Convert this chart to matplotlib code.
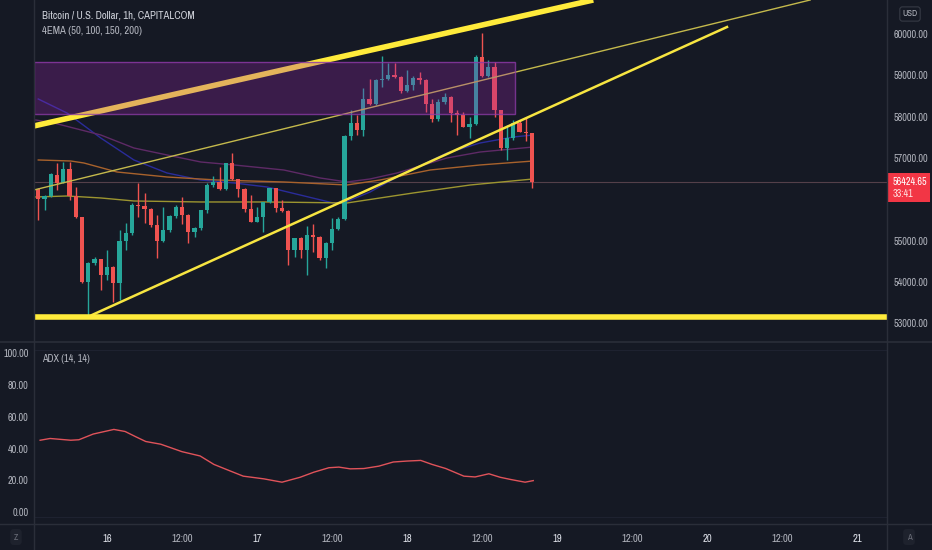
import numpy as np
import matplotlib
matplotlib.use("Agg")
import matplotlib.pyplot as plt
from matplotlib import font_manager
from matplotlib.patches import Rectangle
from matplotlib.transforms import blended_transform_factory

#================= Data =================

# hours counted from 16th 00:00, one candle per hour
hours = list(range(-11, 69))

opens = [56239, 55997, 56085, 56586, 56384, 56731, 56085, 55561, 54003, 54463,
         54544, 54165, 54366, 53979, 54988, 55174, 55859, 55835, 55763, 55375,
         54996, 55254, 55601, 55819, 55617, 55198, 55295, 55738, 56344, 56424,
         56239, 56884, 56481, 56239, 55754, 55456, 55561, 55924, 56263, 55779,
         55722, 54770, 55052, 54770, 55133, 55093, 54568, 54948, 55270, 55512,
         57531, 57837, 57676, 58418, 58305, 58887, 58903, 59008, 58967, 58628,
         58765, 58943, 58887, 58305, 57934, 58362, 58483, 58096, 58031, 57757,
         57813, 59443, 58983, 59201, 58160, 57240, 57482, 57845, 57627, 57603]
highs = [56260, 56100, 56626, 56868, 56909, 56909, 56300, 55577, 54490, 54609,
         54560, 54770, 54380, 55254, 55416, 55900, 56384, 56142, 55790, 55617,
         55819, 55610, 55859, 56061, 55640, 55330, 55750, 56384, 56561, 56787,
         56884, 57126, 56500, 56260, 56101, 55819, 55940, 56280, 56280, 55980,
         55740, 55070, 55090, 55351, 55400, 55110, 54970, 55537, 55560, 57550,
         58160, 58039, 58685, 58903, 58900, 59468, 59290, 59290, 58990, 59129,
         58990, 59088, 58900, 58420, 58420, 58560, 58500, 58160, 58120, 57983,
         59500, 60020, 59371, 59330, 58170, 57797, 57918, 57918, 57990, 57610]
lows = [55496, 55738, 56061, 56223, 56384, 55980, 55537, 53963, 53196, 54407,
        53802, 54044, 53519, 53560, 54770, 55133, 55577, 55416, 55335, 54568,
        54972, 55214, 55537, 55400, 54931, 55093, 55254, 55674, 56300, 56220,
        56220, 56460, 56061, 55698, 55440, 55440, 55214, 55900, 55698, 55700,
        54407, 54609, 54568, 54165, 54730, 54540, 54326, 54770, 55250, 55490,
        57434, 57555, 57531, 58280, 58280, 58725, 58880, 58940, 58564, 58600,
        58640, 58790, 58120, 57878, 57900, 58300, 57878, 57555, 57740, 57474,
        57797, 58960, 58960, 57999, 57192, 56950, 57430, 57620, 57400, 56272]
closes = [55997, 56085, 56602, 56384, 56731, 56085, 55561, 54003, 54463, 54544,
          54165, 54366, 53979, 54988, 55174, 55859, 55835, 55763, 55375, 54996,
          55254, 55601, 55819, 55617, 55198, 55295, 55738, 56344, 56424, 56239,
          56884, 56481, 56239, 55754, 55456, 55561, 55924, 56263, 55779, 55722,
          54770, 55052, 54770, 55133, 55093, 54568, 54948, 55270, 55512, 57531,
          57837, 57676, 58418, 58305, 58887, 58903, 59008, 58967, 58628, 58765,
          58943, 58887, 58305, 57934, 58362, 58483, 58096, 58031, 57757, 57813,
          59443, 58983, 59201, 58160, 57240, 57482, 57845, 57627, 57603, 56424.65]

# EMA lines (hour, price)
ema50_t = [-11.0, -6.4, -1.0, 4.3, 9.6, 15.0, 20.3, 25.6, 30.9, 36.2, 38.2, 42.1, 46.4, 54.4, 59.7, 65.0, 68.2]
ema50_p = [58426, 58087, 57482, 56950, 56635, 56465, 56393, 56296, 56102, 55909, 55933, 56175, 56538, 57119, 57361, 57506, 57555]
ema100_t = [-11.4, -8.5, -1.0, 4.3, 9.6, 15.0, 20.3, 28.3, 34.1, 38.4, 42.1, 46.4, 54.4, 59.7, 68.2]
ema100_p = [57918, 57845, 57555, 57240, 57071, 56901, 56829, 56707, 56514, 56417, 56490, 56635, 56998, 57143, 57264]
ema150_t = [-11.0, -5.8, -3.7, 1.6, 9.6, 17.6, 28.3, 38.4, 43.7, 51.7, 59.7, 68.2]
ema150_p = [56950, 56925, 56877, 56659, 56538, 56465, 56417, 56344, 56465, 56707, 56829, 56925]
ema200_t = [-11.4, -6.4, -1.0, 4.3, 15.0, 25.6, 38.4, 49.0, 58.1, 68.2]
ema200_p = [56054, 56078, 56030, 55957, 55933, 55933, 55909, 56151, 56344, 56490]

# ADX (14, 14)
adx_t = [-10.7, -9.1, -5.8, -4.5, -2.2, 1.1, 2.9, 4.6, 6.2, 8.6, 12.0, 14.9, 17.1, 19.5,
         21.8, 25.1, 28.0, 30.9, 33.1, 35.5, 37.1, 38.9, 41.1, 43.5, 45.8, 48.0, 50.2,
         52.0, 54.2, 57.1, 58.9, 61.1, 62.9, 64.6, 66.9, 68.2]
adx_v = [45.3, 46.4, 45.3, 45.6, 49.2, 52.1, 50.8, 47.5, 44.5, 42.8, 38.1, 35.4, 30.1, 26.3,
         22.7, 21.0, 18.9, 22.0, 25.2, 28.0, 28.4, 27.3, 27.5, 29.0, 31.6, 32.2, 32.6,
         30.1, 27.5, 22.7, 22.2, 24.2, 22.0, 20.6, 18.9, 19.9]

# drawings (hour, price)
top_line = ([-11.7, 77.8], [57773, 60823])
thin_line = ([-11.7, 112.5], [56223, 60823])
rise_line = ([-2.4, 99.2], [53197, 60169])
support_price = 53149
box_t = (-11.7, 65.3)
box_p = (58063, 59322)
last_price = 56424.65

price_ticks = [53000, 54000, 55000, 57000, 58000, 59000, 60000]
adx_ticks = [0, 20, 40, 60, 80, 100]
time_ticks = [0, 12, 24, 36, 48, 60, 72, 84, 96, 108, 120]
time_labels = ["16", "12:00", "17", "12:00", "18", "12:00", "19", "12:00", "20", "12:00", "21"]

#================= Fonts =================

# look for a narrow face, the screenshot uses a condensed font
fam, stretch, fs = "Liberation Sans", "normal", 6.3
for f in font_manager.fontManager.ttflist:
    if "Narrow" in f.name or "Condensed" in f.name:
        fam, stretch, fs = f.name, "normal", 7.3
        break
    if f.stretch in ("condensed", "semi-condensed") and fam == "Liberation Sans":
        fam, stretch, fs = f.name, f.stretch, 7.3

plt.rcParams['font.family'] = [fam, 'DejaVu Sans']
plt.rcParams['font.stretch'] = stretch

#================= Plot =================

bg = "#151924"
txt = "#b2b5be"
up = "#26a69a"
down = "#ef5350"

W, H = 932, 550
fig = plt.figure(figsize=(W / 100, H / 100), dpi=100, facecolor=bg)

def fx(px):
    return px / W

def fy(py):
    return 1 - py / H

ax = fig.add_axes([fx(34), fy(341), fx(887 - 34), 341 / H], facecolor=bg)
ax2 = fig.add_axes([fx(34), fy(524), fx(887 - 34), (524 - 342) / H], facecolor=bg)

xmin, xmax = -11.68, 124.8
for a in (ax, ax2):
    a.set_xlim(xmin, xmax)
    for s in a.spines.values():
        s.set_visible(False)

ax.set_ylim(52567, 60823)
ax2.set_ylim(-7.4, 107.1)

# candles
o = np.array(opens)
c = np.array(closes)
cols = [up if cc >= oo else down for oo, cc in zip(o, c)]
ax.vlines(hours, lows, highs, colors=cols, linewidth=1, zorder=3)
body_h = np.maximum(np.abs(c - o), 25)
ax.bar(hours, body_h, bottom=np.minimum(o, c), width=0.7, color=cols, zorder=4, linewidth=0)

# EMAs
ax.plot(ema50_t, ema50_p, color="#2a2c9a", lw=1, zorder=2)
ax.plot(ema100_t, ema100_p, color="#5e2a66", lw=1, zorder=2)
ax.plot(ema150_t, ema150_p, color="#a8622c", lw=1, zorder=2)
ax.plot(ema200_t, ema200_p, color="#9c9530", lw=1, zorder=2)

# current price line
ax.axhline(last_price, color="#54404a", lw=0.8, zorder=1)

# drawings
ax.plot(*top_line, color="#ffeb3b", lw=4, solid_capstyle="butt", zorder=5)
ax.plot(*thin_line, color="#c4b94c", lw=1, zorder=5)
ax.plot(*rise_line, color="#f7e541", lw=1.8, zorder=5)
ax.axhline(support_price, color="#ffeb3b", lw=4, zorder=5)
ax.add_patch(Rectangle((box_t[0], box_p[0]), box_t[1] - box_t[0], box_p[1] - box_p[0],
                       facecolor="#9c27b0", alpha=0.28, edgecolor="none", zorder=6))
ax.add_patch(Rectangle((box_t[0], box_p[0]), box_t[1] - box_t[0], box_p[1] - box_p[0],
                       facecolor="none", edgecolor="#8e3aa8", lw=1, alpha=0.8, zorder=6))

# price axis
ax.yaxis.tick_right()
ax.set_yticks(price_ticks)
ax.set_yticklabels(["%.2f" % p for p in price_ticks])
ax.tick_params(axis="y", length=0, pad=4.5, labelsize=fs, labelcolor=txt)
ax.set_xticks([])

tr = blended_transform_factory(ax.transAxes, ax.transData)
ax.add_patch(Rectangle((1.0, 55933), 43 / 853, 56635 - 55933, transform=tr,
                       facecolor="#f23645", edgecolor="none", clip_on=False, zorder=10))
ax.text(1.0 + 6 / 853, last_price, "%.2f" % last_price, transform=tr, color="white",
        fontsize=fs, va="center", ha="left", clip_on=False, zorder=11)
ax.text(1.0 + 6 / 853, 56126, "33:41", transform=tr, color="#ffe0e0",
        fontsize=fs, va="center", ha="left", clip_on=False, zorder=11)

# ADX pane
ax2.plot(adx_t, adx_v, color="#e0535a", lw=1)
ax2.yaxis.tick_left()
ax2.set_yticks(adx_ticks)
ax2.set_yticklabels(["%.2f" % v for v in adx_ticks])
ax2.tick_params(axis="y", length=0, pad=4, labelsize=fs, labelcolor=txt)
ax2.axhline(102, color="#1e2230", lw=0.8)
ax2.axhline(-3, color="#1e2230", lw=0.8)
ax2.set_xticks(time_ticks)
ax2.set_xticklabels(time_labels)
ax2.tick_params(axis="x", length=0, pad=7, labelsize=fs + 0.3, labelcolor=txt)
for lab in ax2.get_xticklabels():
    if ":" not in lab.get_text():
        lab.set_color("#e0e3eb")

# frame lines
border = "#2a2e39"
fig.add_artist(plt.Line2D([fx(34), fx(34)], [0, 1], color=border, lw=1))
fig.add_artist(plt.Line2D([fx(887), fx(887)], [0, 1], color=border, lw=1))
fig.add_artist(plt.Line2D([0, 1], [fy(341.5), fy(341.5)], color=border, lw=1.2))
fig.add_artist(plt.Line2D([0, 1], [fy(524), fy(524)], color=border, lw=1))

# labels
fig.text(fx(42), fy(15), "Bitcoin / U.S. Dollar, 1h, CAPITALCOM", color="#d1d4dc",
         fontsize=fs + 0.4, fontweight="bold", va="center", ha="left")
fig.text(fx(42), fy(31), "4EMA (50, 100, 150, 200)", color=txt, fontsize=fs + 0.4,
         va="center", ha="left")
fig.text(fx(42), fy(359), "ADX (14, 14)", color=txt, fontsize=fs, va="center", ha="left")
fig.text(fx(910), fy(14), "USD", color=txt, fontsize=fs - 1, va="center", ha="center",
         bbox=dict(boxstyle="round,pad=0.3", facecolor=bg, edgecolor="#363a45", lw=0.8))
fig.text(fx(16), fy(537), "Z", color="#6a6d78", fontsize=fs - 1, va="center", ha="center",
         bbox=dict(boxstyle="round,pad=0.4", facecolor="#1e222d", edgecolor="none"))
fig.text(fx(909), fy(537), "A", color="#6a6d78", fontsize=fs - 1, va="center", ha="center",
         bbox=dict(boxstyle="round,pad=0.4", facecolor="#1e222d", edgecolor="none"))

fig.savefig("out.png", dpi=100, facecolor=bg)
